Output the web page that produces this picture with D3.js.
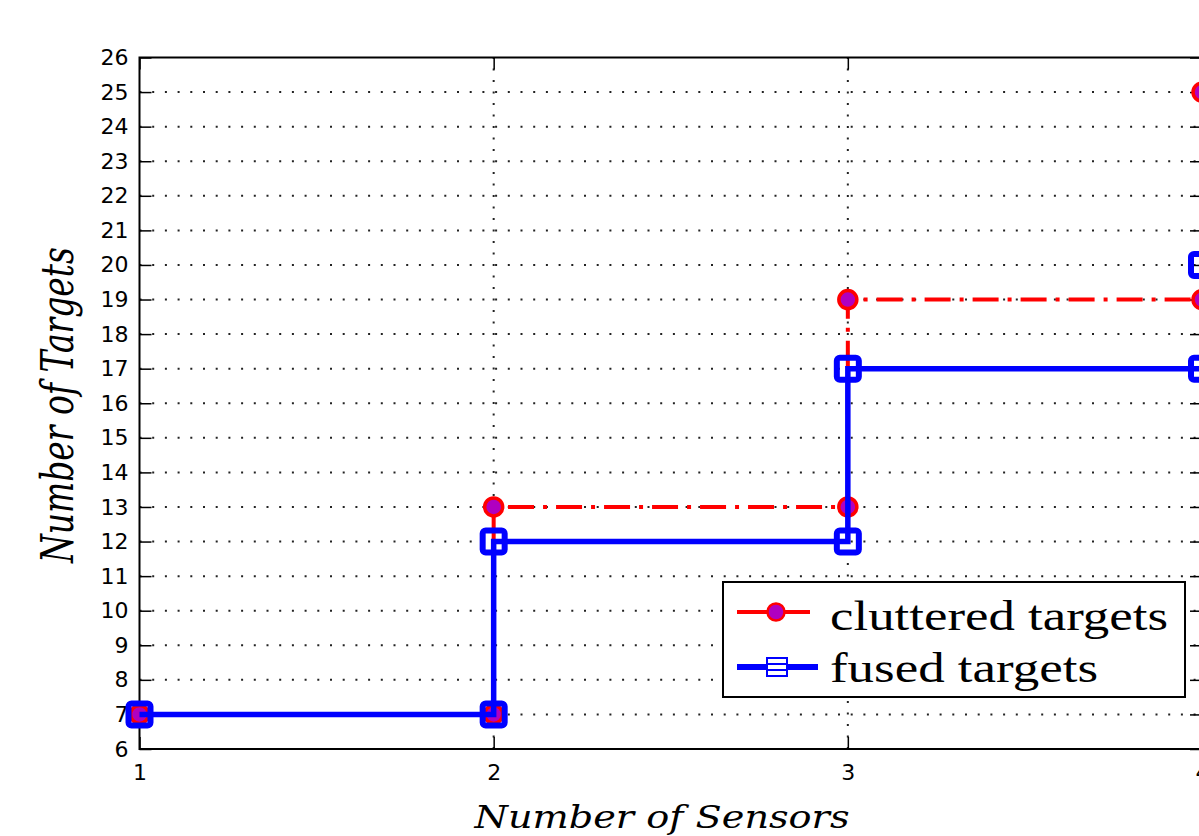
<!DOCTYPE html>
<html>
<head>
<meta charset="utf-8">
<script src="https://cdn.jsdelivr.net/npm/d3@7/dist/d3.min.js"></script>
<style>
  html, body { margin: 0; padding: 0; background: #fff; }
  svg { display: block; }
</style>
</head>
<body>
<svg id="chart" width="1199" height="836"></svg>
<script>
// ---- data ----
const sensors = [1, 2, 3, 4];
const clutteredTargets = [7, 13, 19, 25];
const fusedTargets = [7, 12, 17, 20];
const xTicks = [1, 2, 3, 4];
const yTicks = d3.range(6, 27, 1);
const seriesNames = ["cluttered targets", "fused targets"];
const xLabel = "Number of Sensors";
const yLabel = "Number of Targets";

const svg = d3.select("#chart");
const pLeft = 139.5, pRight = 1202, pTop = 57.5, pBottom = 749;

const x = d3.scaleLinear().domain([1, 4]).range([pLeft, pRight]);
const y = d3.scaleLinear().domain([6, 26]).range([pBottom, pTop]);

// grid
const grid = svg.append("g");
grid.selectAll("line.hg").data(yTicks.filter(v => v > 6 && v < 26)).enter().append("line")
  .attr("x1", pLeft).attr("x2", pRight)
  .attr("y1", d => y(d)).attr("y2", d => y(d))
  .attr("stroke", "#222").attr("stroke-width", 2)
  .attr("stroke-dasharray", "2 10.7");
grid.selectAll("line.vg").data(xTicks.filter(v => v > 1 && v < 4)).enter().append("line")
  .attr("x1", d => x(d)).attr("x2", d => x(d))
  .attr("y1", pBottom).attr("y2", pTop)
  .attr("stroke", "#222").attr("stroke-width", 2)
  .attr("stroke-dasharray", "2 9.5");

// axes
function styleAxis(g) {
  g.select(".domain").remove();
  g.selectAll(".tick line").attr("stroke", "#000").attr("stroke-width", 1.5);
  g.selectAll(".tick text").attr("fill", "#000")
    .style("font-family", "'DejaVu Sans', sans-serif").style("font-size", "22px");
}
svg.append("g").attr("transform", `translate(${pLeft},0)`)
  .call(d3.axisLeft(y).tickValues(yTicks).tickSize(-12).tickSizeOuter(0).tickPadding(11))
  .call(styleAxis);
svg.append("g").attr("transform", `translate(${pRight},0)`)
  .call(d3.axisRight(y).tickValues(yTicks).tickSize(-12).tickSizeOuter(0).tickFormat(""))
  .call(styleAxis);
svg.append("g").attr("transform", `translate(0,${pBottom})`)
  .call(d3.axisBottom(x).tickValues(xTicks).tickSize(-12).tickSizeOuter(0).tickPadding(15).tickFormat(d3.format("d")))
  .call(styleAxis);
svg.append("g").attr("transform", `translate(0,${pTop})`)
  .call(d3.axisTop(x).tickValues(xTicks).tickSize(-12).tickSizeOuter(0).tickFormat(""))
  .call(styleAxis);

svg.append("rect").attr("x", pLeft).attr("y", pTop)
  .attr("width", pRight - pLeft).attr("height", pBottom - pTop)
  .attr("fill", "none").attr("stroke", "#000").attr("stroke-width", 2);

// stairs
function stairs(xs, ys) {
  const pts = [];
  for (let i = 0; i < xs.length; i++) {
    if (i > 0) pts.push([xs[i], ys[i - 1]]);
    pts.push([xs[i], ys[i]]);
  }
  return pts;
}
const line = d3.line().x(d => x(d[0])).y(d => y(d[1]));

const cPts = stairs(sensors, clutteredTargets);
const fPts = stairs(sensors, fusedTargets);

svg.append("path").attr("d", line(cPts))
  .attr("fill", "none").attr("stroke", "#ff0000").attr("stroke-width", 4)
  .attr("stroke-dasharray", "26 9 4 9");
svg.selectAll("circle.c").data(cPts).enter().append("circle")
  .attr("cx", d => x(d[0])).attr("cy", d => y(d[1])).attr("r", 9)
  .attr("fill", "#b000c0").attr("stroke", "#ff0000").attr("stroke-width", 3.5);

svg.append("path").attr("d", line(fPts))
  .attr("fill", "none").attr("stroke", "#0000ff").attr("stroke-width", 5.5);
svg.selectAll("rect.f").data(fPts).enter().append("rect")
  .attr("x", d => x(d[0]) - 11).attr("y", d => y(d[1]) - 11)
  .attr("width", 22).attr("height", 22).attr("rx", 3)
  .attr("fill", "none").attr("stroke", "#0000ff").attr("stroke-width", 6);

// legend
const lg = svg.append("g");
lg.append("rect").attr("x", 723).attr("y", 582).attr("width", 462).attr("height", 115)
  .attr("fill", "#fff").attr("stroke", "#000").attr("stroke-width", 2);
lg.append("line").attr("x1", 737).attr("x2", 810).attr("y1", 612).attr("y2", 612)
  .attr("stroke", "#ff0000").attr("stroke-width", 4);
lg.append("circle").attr("cx", 776).attr("cy", 612).attr("r", 8.5)
  .attr("fill", "#b000c0").attr("stroke", "#ff0000").attr("stroke-width", 2.5);
lg.append("line").attr("x1", 737).attr("x2", 818).attr("y1", 667).attr("y2", 667)
  .attr("stroke", "#0000ff").attr("stroke-width", 6);
lg.append("rect").attr("x", 767).attr("y", 658).attr("width", 20).attr("height", 18)
  .attr("fill", "#fff").attr("stroke", "#0000ff").attr("stroke-width", 2);
lg.append("rect").attr("x", 767).attr("y", 664).attr("width", 20).attr("height", 6)
  .attr("fill", "#fff").attr("stroke", "#0000ff").attr("stroke-width", 2);
const legTextLen = [338, 268];
const legBase = [630, 682];
seriesNames.forEach((name, i) => {
  lg.append("text").attr("x", 830).attr("y", legBase[i])
    .attr("textLength", legTextLen[i]).attr("lengthAdjust", "spacingAndGlyphs")
    .style("font-family", "'Liberation Serif', 'Times New Roman', serif")
    .style("font-size", "42px").attr("fill", "#000").text(name);
});

// axis labels
svg.append("text").attr("x", 662).attr("y", 828).attr("text-anchor", "middle")
  .attr("textLength", 375).attr("lengthAdjust", "spacingAndGlyphs")
  .style("font-family", "'DejaVu Serif', serif").style("font-style", "italic")
  .style("font-size", "32px").attr("fill", "#000").text(xLabel);
svg.append("text").attr("transform", "translate(73,405) rotate(-90)")
  .attr("text-anchor", "middle")
  .attr("textLength", 316).attr("lengthAdjust", "spacingAndGlyphs")
  .style("font-family", "'DejaVu Serif', serif").style("font-style", "italic")
  .style("font-size", "44px").attr("fill", "#000").text(yLabel);
</script>
</body>
</html>
